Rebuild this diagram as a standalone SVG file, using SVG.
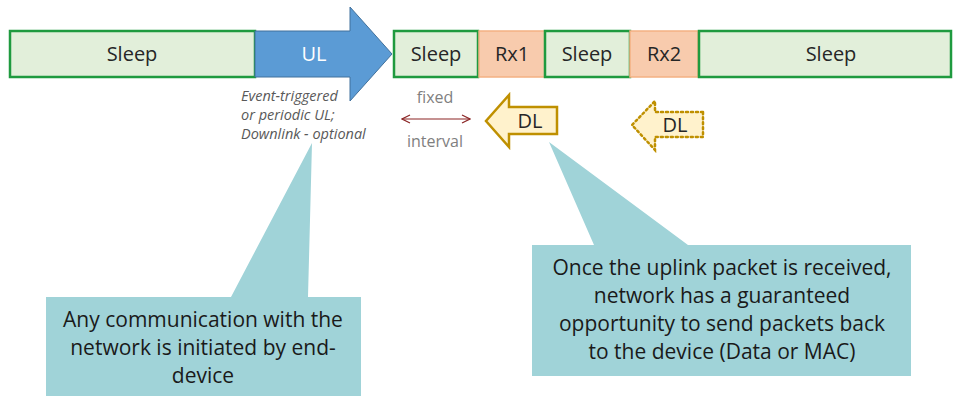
<svg xmlns="http://www.w3.org/2000/svg" width="953" height="396" viewBox="0 0 953 396">
<defs>
<style>
.sleep{fill:#e2efda;stroke:#1f9a3f;stroke-width:2.5}
.rx{fill:#f8cbad;stroke:#f4b183;stroke-width:1.5}
.lbl{font-family:"Open Sans","Liberation Sans",sans-serif;font-size:20px;fill:#262626;text-anchor:middle}
.note{font-family:"Open Sans","Liberation Sans",sans-serif;font-size:14.5px;font-style:italic;fill:#595959}
.gray{font-family:"Open Sans","Liberation Sans",sans-serif;font-size:16px;fill:#7f7f7f;text-anchor:middle}
.call{fill:#a0d3d8}
.ctext{font-family:"Open Sans","Liberation Sans",sans-serif;font-size:21px;fill:#1a1a1a;text-anchor:middle}
.dl{fill:#fff2cc;stroke:#bf9000;stroke-width:2.5;stroke-linejoin:miter}
</style>
<marker id="ah" viewBox="0 0 10 10" refX="9" refY="5" markerWidth="10" markerHeight="10" markerUnits="userSpaceOnUse" orient="auto-start-reverse">
<path d="M1,1 L9,5 L1,9" fill="none" stroke="#8b2525" stroke-width="1.2"/>
</marker>
</defs>
<rect width="953" height="396" fill="#ffffff"/>

<g id="sleep1"><rect class="sleep" x="10" y="31" width="245" height="46"/><text class="lbl" x="132" y="61">Sleep</text></g>
<g id="ul"><path d="M255,31 L350,31 L350,7 L392,54 L350,101 L350,77 L255,77 Z" fill="#5b9bd5" stroke="#41719c" stroke-width="1"/><text class="lbl" x="314" y="61" style="fill:#ffffff">UL</text></g>
<g id="sleep2"><rect class="sleep" x="394" y="31" width="84" height="46"/><text class="lbl" x="436" y="61">Sleep</text></g>
<g id="rx1"><rect class="rx" x="479" y="31" width="66" height="46"/><text class="lbl" x="512" y="61">Rx1</text></g>
<g id="sleep3"><rect class="sleep" x="545" y="31" width="85" height="46"/><text class="lbl" x="587" y="61">Sleep</text></g>
<g id="rx2"><rect class="rx" x="630" y="31" width="68" height="46"/><text class="lbl" x="664" y="61">Rx2</text></g>
<g id="sleep4"><rect class="sleep" x="699" y="31" width="252" height="46"/><text class="lbl" x="831" y="61">Sleep</text></g>

<g id="ulnote">
<text class="note" x="241" y="101">Event-triggered</text>
<text class="note" x="241" y="120">or periodic UL;</text>
<text class="note" x="241" y="139">Downlink - optional</text>
</g>

<g id="interval">
<text class="gray" x="435" y="103">fixed</text>
<text class="gray" x="435" y="147">interval</text>
</g>

<g id="connectors">
<line x1="402" y1="119" x2="470" y2="119" stroke="#8b2525" stroke-width="1.2" marker-start="url(#ah)" marker-end="url(#ah)"/>
</g>

<g id="dl1"><path class="dl" d="M557,107 L509,107 L509,95 L486,121 L509,147 L509,134 L557,134 Z"/><text class="lbl" x="530" y="128">DL</text></g>
<g id="dl2"><path class="dl" d="M703,112 L655,112 L655,101 L632,125 L655,150 L655,137 L703,137 Z" stroke-dasharray="2 3" stroke-linecap="round"/><text class="lbl" x="675" y="132">DL</text></g>

<g id="callout1">
<path class="call" d="M46,297 L231,297 L312,143 L308,297 L361,297 L361,396 L46,396 Z"/>
<text class="ctext" x="203" y="327">Any communication with the</text>
<text class="ctext" x="203" y="355">network is initiated by end-</text>
<text class="ctext" x="203" y="383">device</text>
</g>

<g id="callout2">
<path class="call" d="M532,245 L594,245 L549,142 L688,245 L911,245 L911,376 L532,376 Z"/>
<text class="ctext" x="722" y="275">Once the uplink packet is received,</text>
<text class="ctext" x="722" y="303">network has a guaranteed</text>
<text class="ctext" x="722" y="331">opportunity to send packets back</text>
<text class="ctext" x="722" y="359">to the device (Data or MAC)</text>
</g>
</svg>
